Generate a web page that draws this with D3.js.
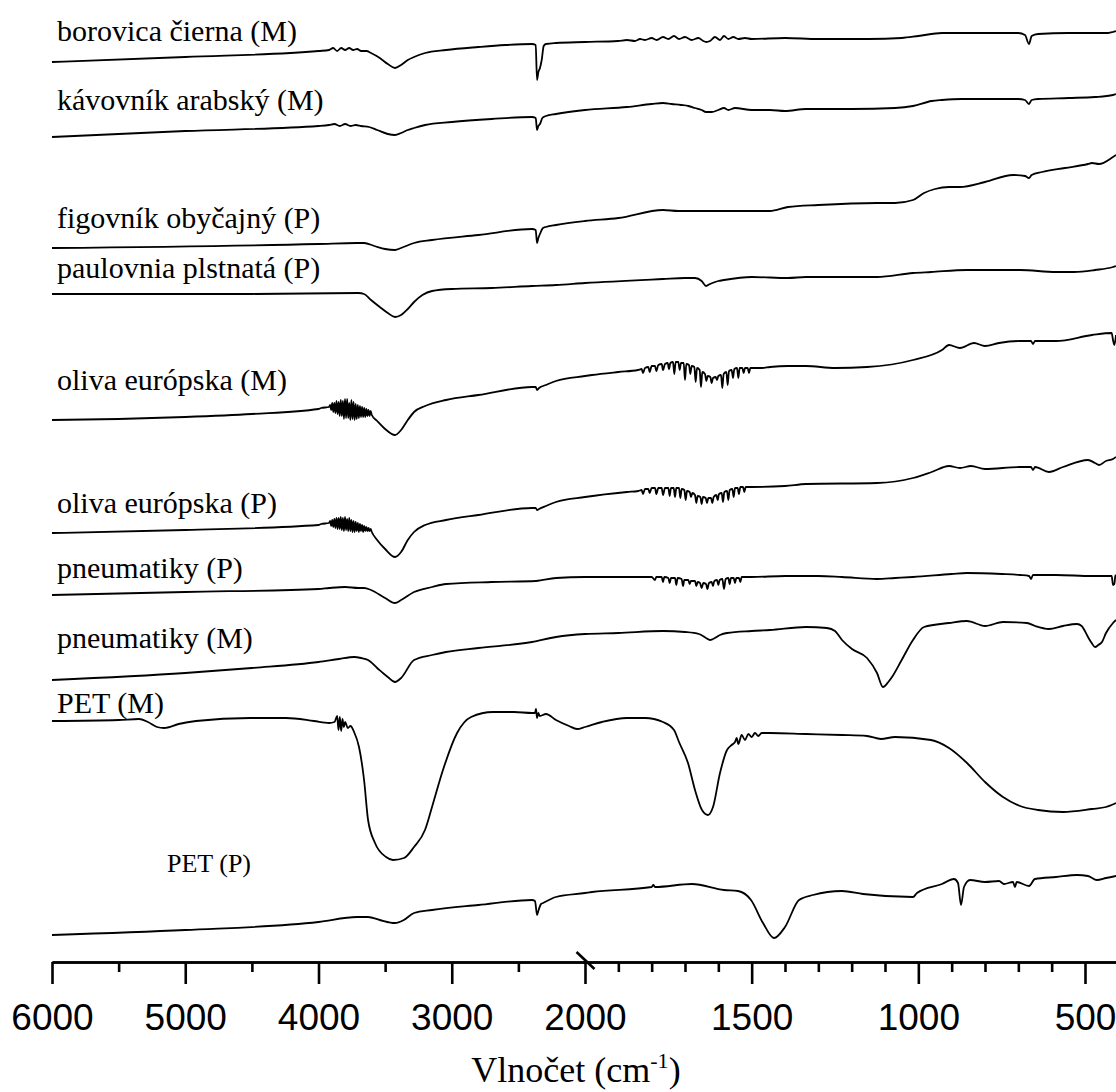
<!DOCTYPE html>
<html>
<head>
<meta charset="utf-8">
<script src="https://cdn.jsdelivr.net/npm/d3@7"></script>
<style>
  html, body { margin: 0; padding: 0; background: #fff; }
  svg { display: block; }
</style>
</head>
<body>
<svg id="chart" width="1116" height="1092"></svg>
<script>
// FTIR spectra, stacked with offsets (arbitrary intensity units), wavenumber in cm-1.
// Each series: [wavenumber, intensity]

const borovicaM = [
  [6000,89.8],[5000,90.3],[4000,90.9],[3921,91.0],[3890,91.2],[3860,90.9],[3830,91.2],[3800,91.0],
  [3770,91.2],[3740,91.0],[3710,91.1],[3680,90.9],[3640,90.9],[3606,90.7],[3540,90.2],[3480,89.6],
  [3426,89.2],[3380,89.5],[3330,90.0],[3283,90.3],[3200,90.7],[3043,91.0],[2800,91.3],[2600,91.5],
  [2398,91.6],[2370,91.5],[2360,88.0],[2350,88.8],[2338,89.2],[2325,90.0],[2310,91.4],[2293,91.6],
  [2218,91.7],[2000,91.8],[1901,91.9],[1874,92.0],[1850,91.9],[1835,92.1],[1820,92.0],[1800,92.2],
  [1785,92.0],[1766,92.3],[1750,92.1],[1733,92.4],[1718,92.1],[1700,92.3],[1680,92.0],[1660,92.2],
  [1645,91.9],[1637,91.8],[1625,91.9],[1610,92.3],[1595,92.0],[1583,92.4],[1570,92.1],[1555,92.3],
  [1540,92.1],[1520,92.2],[1500,92.1],[1400,92.2],[1300,92.1],[1150,92.1],[1050,92.2],[1000,92.4],
  [929,92.7],[870,92.7],[700,92.7],[680,92.5],[668,91.6],[660,92.4],[641,92.6],[550,92.7],
  [470,92.7],[430,92.7],[416,92.8],[407,92.9]
];

const kavovnikM = [
  [6000,82.3],[5000,82.9],[4000,83.4],[3921,83.5],[3880,83.6],[3840,83.4],[3800,83.6],[3760,83.4],
  [3720,83.5],[3680,83.4],[3620,83.3],[3560,83.0],[3480,82.6],[3426,82.5],[3380,82.7],[3330,83.0],
  [3283,83.2],[3200,83.5],[3000,83.8],[2700,84.1],[2398,84.3],[2370,84.2],[2360,83.0],[2350,83.4],
  [2338,83.6],[2320,84.2],[2293,84.4],[2218,84.6],[2000,85.0],[1874,85.3],[1800,85.6],[1766,85.7],
  [1740,85.6],[1712,85.5],[1690,85.4],[1670,85.2],[1650,85.0],[1637,84.8],[1620,84.8],[1600,85.0],
  [1583,85.2],[1570,85.0],[1550,85.2],[1500,85.0],[1445,85.0],[1400,84.9],[1337,85.1],[1200,85.1],
  [1070,85.2],[1016,85.4],[960,85.9],[929,86.0],[870,86.1],[700,86.1],[680,86.0],[668,85.6],
  [660,86.0],[641,86.1],[550,86.2],[470,86.3],[416,86.5],[407,86.6]
];

const figovnikP = [
  [6000,71.2],[4000,71.6],[3711,71.7],[3658,71.7],[3580,71.4],[3500,71.1],[3426,71.0],[3380,71.2],
  [3283,71.7],[3148,72.0],[2800,72.5],[2398,73.1],[2370,73.0],[2360,71.7],[2350,72.2],[2338,72.6],
  [2315,73.2],[2293,73.3],[2218,73.5],[2000,73.9],[1900,74.2],[1766,75.0],[1720,74.9],[1625,74.9],
  [1550,74.9],[1445,74.9],[1391,75.3],[1300,75.5],[1124,75.7],[1070,75.7],[1016,76.0],[983,76.7],
  [950,77.1],[908,77.3],[875,77.3],[800,77.8],[716,78.5],[680,78.4],[668,78.2],[660,78.5],
  [629,78.8],[560,79.2],[491,79.6],[479,79.7],[458,79.6],[416,80.3],[407,80.5]
];

const paulovniaP = [
  [6000,66.6],[4500,66.6],[3700,66.7],[3658,66.6],[3606,66.0],[3540,65.3],[3480,64.7],[3426,64.3],
  [3380,64.5],[3330,65.1],[3283,65.8],[3220,66.5],[3148,66.9],[3000,67.1],[2700,67.2],[2398,67.4],
  [2218,67.5],[2000,67.7],[1766,68.1],[1700,68.2],[1670,68.2],[1650,67.9],[1637,67.4],[1625,67.6],
  [1600,67.9],[1583,68.0],[1500,68.3],[1391,68.2],[1337,68.3],[1124,68.3],[1016,68.7],[962,68.8],
  [854,69.0],[695,69.0],[587,68.8],[533,68.8],[470,69.0],[416,69.3],[407,69.4]
];

const olivaM = [
  [6000,54.0],[5500,54.1],[5000,54.3],[4500,54.6],[4000,55.1],[3981,55.2],[3921,55.3],
  [3913,55.5],[3905,55.0],[3897,55.7],[3889,54.8],[3881,55.7],[3873,54.7],[3865,55.9],[3857,54.6],
  [3849,55.8],[3841,54.4],[3833,56.0],[3825,54.4],[3817,55.9],[3809,54.1],[3801,56.1],[3793,54.2],
  [3785,56.1],[3777,54.2],[3769,55.7],[3761,54.0],[3753,56.0],[3745,54.1],[3737,55.8],[3729,54.0],
  [3721,55.6],[3713,54.1],[3705,55.5],[3697,54.2],[3689,55.4],[3681,54.3],[3673,55.3],[3665,54.3],
  [3657,55.2],[3649,54.3],[3641,55.1],[3633,54.4],[3625,55.0],[3617,54.4],[3609,54.9],[3600,54.5],
  [3560,53.9],[3500,53.1],[3426,52.5],[3380,53.0],
  [3330,54.0],[3283,54.8],[3200,55.4],[3043,56.0],[2800,56.5],[2398,57.3],[2370,57.3],[2360,57.0],
  [2345,57.2],[2293,57.5],[2218,57.9],[2000,58.4],[1979,58.5],[1900,58.8],[1841,59.0],[1830,59.1],
  [1826,58.7],[1820,59.2],[1810,59.3],[1806,58.8],[1800,59.4],[1790,59.4],[1786,58.9],[1780,59.5],
  [1770,59.6],[1766,59.0],[1760,59.6],[1752,59.7],[1748,59.1],[1744,59.7],[1736,59.8],[1732,58.6],
  [1728,59.8],[1720,59.8],[1716,59.0],[1712,59.7],[1704,59.7],[1700,58.0],[1696,59.6],[1688,59.5],
  [1684,58.6],[1680,59.4],[1672,59.3],[1668,57.8],[1664,59.2],[1656,59.0],[1652,57.3],[1648,58.8],
  [1640,58.6],[1636,57.9],[1632,58.4],[1624,58.3],[1620,57.7],[1616,58.2],[1608,58.3],[1604,58.0],
  [1600,58.4],[1592,58.5],[1588,57.2],[1584,58.6],[1576,58.8],[1572,57.5],[1568,58.9],[1560,59.0],
  [1556,58.2],[1552,59.1],[1544,59.2],[1540,58.2],[1536,59.2],[1528,59.2],[1524,58.7],[1520,59.2],
  [1512,59.2],[1508,58.7],[1504,59.2],[1490,59.2],[1470,59.2],[1445,59.3],[1391,59.4],[1337,59.4],
  [1250,59.2],[1154,59.3],[1016,60.0],[929,61.0],[908,61.5],[875,61.2],[833,61.7],[800,61.4],
  [758,61.7],[695,61.9],[662,61.9],[656,61.6],[650,61.9],[587,61.9],[479,62.5],[420,62.7],
  [416,62.0],[412,61.5],[407,62.5]
];

const olivaP = [
  [6000,42.7],[5000,43.0],[4000,43.5],[3981,43.6],[3921,43.7],
  [3913,43.9],[3905,43.4],[3897,44.0],[3889,43.3],[3881,44.1],[3873,43.2],[3865,44.2],[3857,43.1],
  [3849,44.2],[3841,43.1],[3833,44.3],[3825,43.0],[3817,44.2],[3809,42.9],[3801,44.3],[3793,43.0],
  [3785,44.1],[3777,42.9],[3769,44.2],[3761,42.9],[3753,44.0],[3745,42.8],[3737,43.9],[3729,42.8],
  [3721,43.8],[3713,42.9],[3705,43.7],[3697,42.8],[3689,43.6],[3681,42.9],[3673,43.5],[3665,42.8],
  [3657,43.4],[3649,42.9],[3641,43.3],[3633,42.9],[3625,43.2],[3617,42.9],[3609,43.1],[3600,42.8],
  [3560,42.0],[3500,41.1],[3426,40.3],[3380,40.8],[3330,42.0],[3283,42.8],[3200,43.5],
  [3043,44.0],[2800,44.5],[2398,45.2],[2370,45.2],[2360,45.0],[2345,45.1],[2293,45.4],[2218,45.8],
  [2000,46.3],[1874,46.8],[1840,46.9],[1830,47.0],[1826,46.6],[1820,47.1],[1810,47.1],[1806,46.7],
  [1800,47.2],[1790,47.2],[1786,46.6],[1780,47.2],[1770,47.2],[1766,46.5],[1760,47.2],[1750,47.2],
  [1746,46.4],[1742,47.2],[1734,47.2],[1730,46.3],[1726,47.2],[1718,47.2],[1714,46.2],[1710,47.1],
  [1702,47.0],[1698,46.0],[1694,46.9],[1686,46.8],[1682,46.3],[1678,46.7],[1670,46.5],[1666,45.7],
  [1662,46.4],[1654,46.3],[1650,45.6],[1646,46.3],[1638,46.2],[1634,45.7],[1630,46.2],[1622,46.2],
  [1618,45.7],[1614,46.3],[1606,46.5],[1602,46.0],[1598,46.6],[1590,46.7],[1586,45.8],[1582,46.8],
  [1574,46.9],[1570,46.0],[1566,47.0],[1558,47.1],[1554,46.3],[1550,47.2],[1542,47.2],[1538,46.6],
  [1534,47.3],[1526,47.3],[1522,46.8],[1518,47.3],[1500,47.3],[1400,47.4],[1337,47.6],[1124,47.7],
  [1016,48.2],[960,48.8],[908,49.4],[875,49.2],[842,49.4],[800,49.1],[695,49.3],[662,49.3],
  [656,49.0],[650,49.3],[608,48.8],[566,49.3],[491,50.0],[470,49.7],[458,49.5],[437,49.9],
  [416,50.1],[407,50.3]
];

const pneumatikyP = [
  [6000,36.5],[5000,36.8],[4000,37.1],[3921,37.2],[3800,37.3],[3700,37.2],[3658,37.2],[3606,37.0],
  [3500,36.2],[3426,35.7],[3380,36.0],[3283,36.8],[3148,37.3],[3043,37.6],[2700,37.8],[2368,37.9],
  [2218,38.2],[2000,38.3],[1874,38.3],[1800,38.3],[1790,38.0],[1786,38.3],[1770,38.3],[1766,37.8],
  [1762,38.3],[1750,38.2],[1746,37.7],[1742,38.2],[1730,38.2],[1726,37.5],[1722,38.2],[1710,38.1],
  [1706,37.4],[1702,38.0],[1690,38.0],[1686,37.6],[1682,37.9],[1670,37.9],[1666,37.4],[1662,37.8],
  [1655,37.7],[1650,37.2],[1645,37.7],[1637,37.6],[1633,37.1],[1628,37.7],[1620,37.8],[1616,37.4],
  [1612,37.9],[1604,38.0],[1600,37.5],[1596,38.0],[1588,38.1],[1583,37.1],[1578,38.1],[1570,38.2],
  [1566,37.6],[1562,38.2],[1554,38.2],[1550,37.7],[1546,38.2],[1538,38.2],[1534,37.8],[1530,38.3],
  [1500,38.3],[1400,38.4],[1300,38.4],[1229,38.3],[1124,38.1],[1070,38.2],[1016,38.3],[900,38.6],
  [854,38.7],[750,38.6],[695,38.5],[668,38.4],[662,38.1],[656,38.5],[587,38.5],[479,38.4],
  [420,38.4],[416,37.5],[412,37.6],[409,38.4],[407,38.5]
];

const pneumatikyM = [
  [6000,28.0],[5000,28.7],[4500,29.2],[4000,29.8],[3846,30.1],[3733,30.3],[3680,30.2],[3628,30.0],
  [3560,29.2],[3480,28.3],[3426,27.8],[3380,28.2],[3283,30.0],[3148,30.5],[3043,30.8],[2800,31.2],
  [2398,31.8],[2218,32.3],[2000,32.6],[1900,32.7],[1766,32.9],[1700,32.8],[1658,32.6],[1637,32.2],
  [1625,32.0],[1616,32.1],[1595,32.5],[1574,32.7],[1500,32.9],[1445,33.0],[1337,33.3],[1274,33.2],
  [1250,32.9],[1229,32.0],[1199,31.1],[1154,30.2],[1124,28.7],[1106,27.3],[1090,27.8],[1079,28.3],
  [1050,30.0],[1016,32.0],[983,33.3],[908,33.7],[854,33.9],[800,33.4],[746,33.8],[674,33.7],
  [650,33.4],[608,33.1],[566,33.4],[524,33.6],[510,33.4],[491,32.3],[480,31.7],[470,31.3],
  [460,31.5],[449,31.8],[437,32.7],[416,33.7],[407,34.0]
];

const petM = [
  [6000,23.9],[5500,24.0],[5347,24.1],[5280,23.8],[5212,23.3],[5159,23.2],[5050,23.6],[4919,23.9],
  [4514,24.2],[4244,24.2],[4034,23.9],[3921,23.7],[3880,23.8],[3860,24.4],[3850,23.0],[3840,24.3],
  [3830,22.9],[3820,24.1],[3810,23.3],[3800,23.8],[3780,23.2],[3760,23.4],[3733,22.8],[3696,21.3],
  [3658,18.0],[3628,14.0],[3576,11.7],[3493,10.3],[3441,10.0],[3358,10.2],[3283,11.3],[3201,13.0],
  [3148,15.3],[3066,19.0],[2960,22.7],[2855,24.3],[2690,24.8],[2533,24.8],[2398,24.7],[2375,24.7],
  [2368,25.1],[2360,24.2],[2350,24.7],[2340,24.4],[2293,24.6],[2218,24.0],[2120,23.4],[2060,23.1],
  [2000,23.3],[1949,23.8],[1874,24.2],[1820,24.2],[1766,23.8],[1733,23.0],[1718,21.8],[1691,19.7],
  [1670,17.0],[1649,15.0],[1631,14.5],[1616,15.3],[1595,18.7],[1574,21.0],[1560,21.5],[1550,21.8],
  [1545,22.2],[1540,21.6],[1530,22.5],[1520,22.0],[1510,22.6],[1500,22.3],[1490,22.7],[1480,22.4],
  [1470,22.7],[1445,22.7],[1337,22.6],[1229,22.5],[1154,22.4],[1112,22.1],[1070,22.3],[962,22.0],
  [908,21.2],[854,19.7],[800,17.8],[746,16.3],[695,15.4],[641,15.0],[566,14.8],[479,15.1],
  [437,15.3],[407,15.7]
];

const petP = [
  [6000,2.5],[5000,3.0],[4000,3.8],[3711,4.3],[3628,4.3],[3540,4.0],[3426,3.7],[3360,4.0],
  [3283,4.7],[3148,5.0],[2800,5.5],[2398,6.0],[2375,5.9],[2360,4.5],[2348,5.0],[2330,5.6],
  [2315,5.7],[2218,6.3],[2000,6.7],[1979,6.8],[1800,7.3],[1795,7.5],[1790,7.3],[1679,7.6],
  [1583,7.0],[1541,6.9],[1502,6.0],[1466,3.7],[1433,2.2],[1400,3.3],[1358,6.0],[1316,6.5],
  [1229,6.9],[1166,6.6],[1016,6.3],[1004,6.7],[929,7.6],[893,8.1],[881,7.7],[872,5.5],
  [863,7.3],[845,8.0],[800,7.8],[758,7.9],[743,7.6],[716,7.8],[710,7.3],[705,7.8],
  [668,7.4],[650,8.1],[587,8.3],[524,8.5],[491,8.4],[464,8.0],[437,8.2],[407,8.4]
];

const seriesNames = [
  "borovica čierna (M)", "kávovník arabský (M)", "figovník obyčajný (P)", "paulovnia plstnatá (P)",
  "oliva európska (M)", "oliva európska (P)", "pneumatiky (P)", "pneumatiky (M)", "PET (M)", "PET (P)"
];
const seriesData = [borovicaM, kavovnikM, figovnikP, paulovniaP, olivaM, olivaP, pneumatikyP, pneumatikyM, petM, petP];

// x axis ticks (broken axis at 2000 cm-1)
const majorLeft = [6000, 5000, 4000, 3000, 2000];
const minorLeft = [5500, 4500, 3500, 2500];
const majorRight = [1500, 1000, 500];
const minorRight = [1900, 1800, 1700, 1600, 1400, 1300, 1200, 1100, 900, 800, 700, 600];

// label placement: intensity level of each label's baseline
const labelLevels = [91.9, 85.0, 73.2, 68.2, 57.0, 44.7, 38.2, 31.2, 24.7, 8.8];

const svg = d3.select("#chart");
const W = 1116;
const axisY = 962;

const xLeft = d3.scaleLinear().domain([6000, 2000]).range([52, 585]);
const xRight = d3.scaleLinear().domain([2000, 407]).range([585, 1116]);
const x = w => (w >= 2000 ? xLeft(w) : xRight(w));
const y = d3.scaleLinear().domain([0, 96]).range([960, 0]);

svg.append("defs").append("clipPath").attr("id", "plotClip")
  .append("rect").attr("x", 0).attr("y", 0).attr("width", W).attr("height", axisY);

const line = d3.line()
  .x(d => x(d[0]))
  .y(d => y(d[1]))
  .curve(d3.curveMonotoneX);

const plot = svg.append("g").attr("clip-path", "url(#plotClip)");
seriesData.forEach(data => {
  const pts = data.slice().sort((a, b) => b[0] - a[0]);
  plot.append("path")
    .attr("d", line(pts))
    .attr("fill", "none")
    .attr("stroke", "#000")
    .attr("stroke-width", 1.8)
    .attr("stroke-linejoin", "round");
});

// series labels
seriesNames.forEach((name, i) => {
  const small = name === "PET (P)";
  svg.append("text")
    .attr("x", small ? 167 : 57)
    .attr("y", y(labelLevels[i]))
    .attr("font-family", "'Liberation Serif', 'Times New Roman', serif")
    .attr("font-size", small ? 26 : 30)
    .attr("fill", "#000")
    .text(name);
});

// axes
const fmt = d3.format("d");
function styleAxis(g) {
  g.select(".domain").attr("stroke", "#000").attr("stroke-width", 2.6);
  g.selectAll(".tick line").attr("stroke", "#000").attr("stroke-width", 2.6);
  g.selectAll(".tick text")
    .attr("y", 68).attr("dy", 0)
    .attr("font-family", "'Liberation Sans', Arial, sans-serif")
    .attr("font-size", 37)
    .attr("fill", "#000");
}

const axL = svg.append("g").attr("transform", `translate(0,${axisY})`)
  .call(d3.axisBottom(xLeft).tickValues(majorLeft).tickSize(22).tickSizeOuter(0).tickFormat(fmt));
styleAxis(axL);
const axLm = svg.append("g").attr("transform", `translate(0,${axisY})`)
  .call(d3.axisBottom(xLeft).tickValues(minorLeft).tickSize(10).tickSizeOuter(0).tickFormat(""));
styleAxis(axLm);
const axR = svg.append("g").attr("transform", `translate(0,${axisY})`)
  .call(d3.axisBottom(xRight).tickValues(majorRight).tickSize(22).tickSizeOuter(0).tickFormat(fmt));
styleAxis(axR);
const axRm = svg.append("g").attr("transform", `translate(0,${axisY})`)
  .call(d3.axisBottom(xRight).tickValues(minorRight).tickSize(10).tickSizeOuter(0).tickFormat(""));
styleAxis(axRm);

// axis break mark at 2000 cm-1
const bx = xLeft(2000);
svg.append("line")
  .attr("x1", bx - 8.5).attr("y1", axisY - 10)
  .attr("x2", bx + 9.5).attr("y2", axisY + 7)
  .attr("stroke", "#000").attr("stroke-width", 2.6);

// axis title
const title = svg.append("text")
  .attr("x", 576).attr("y", 1082)
  .attr("text-anchor", "middle")
  .attr("font-family", "'Liberation Serif', 'Times New Roman', serif")
  .attr("font-size", 36)
  .attr("fill", "#000");
title.append("tspan").text("Vlnočet (cm");
title.append("tspan").attr("dy", -14).attr("font-size", 22).text("-1");
title.append("tspan").attr("dy", 14).text(")");
</script>
</body>
</html>
